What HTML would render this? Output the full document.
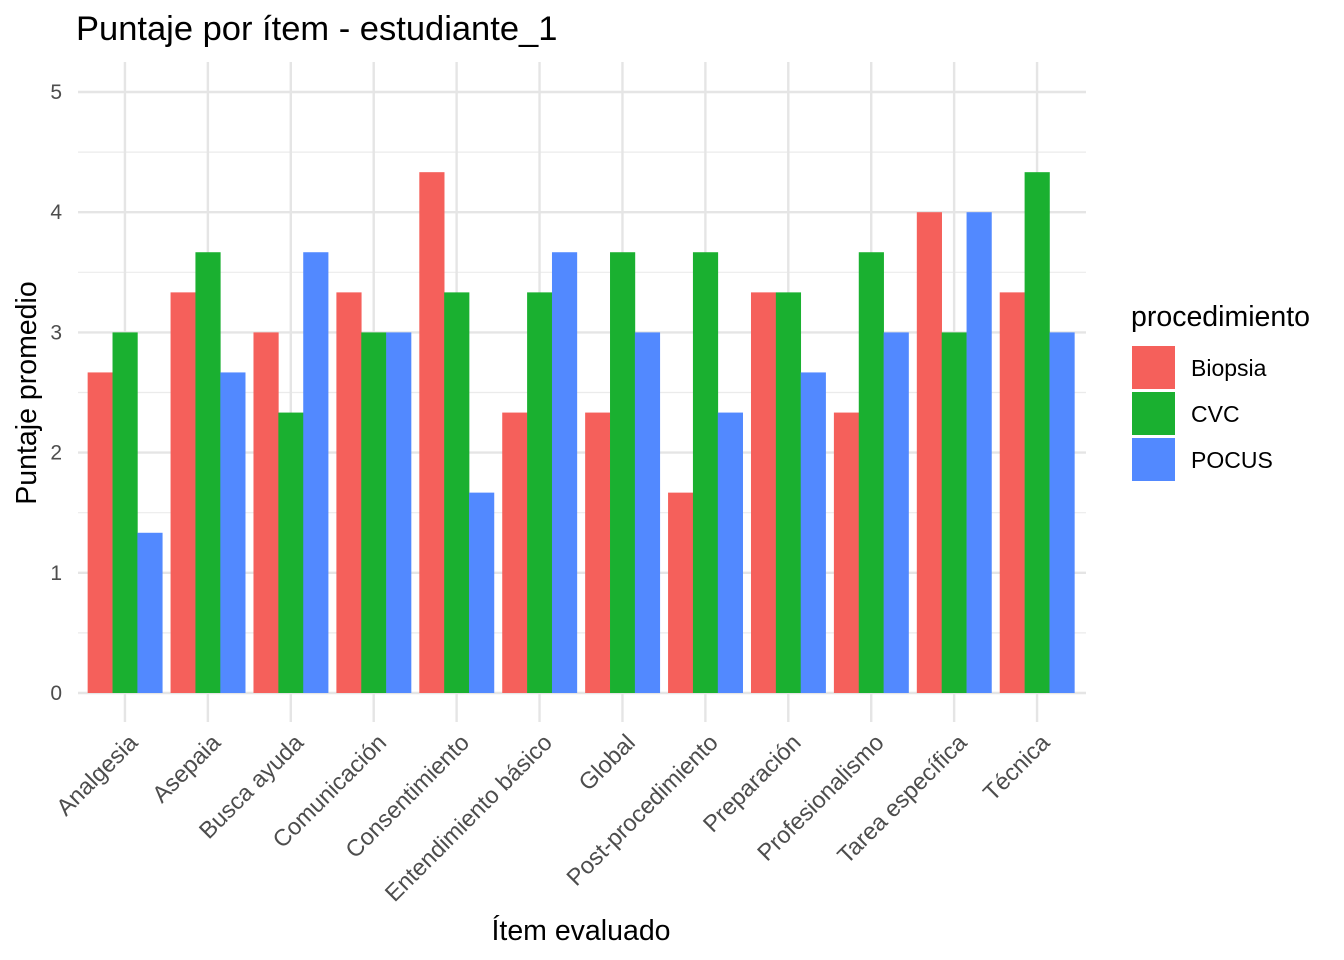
<!DOCTYPE html>
<html><head><meta charset="utf-8"><style>
body{margin:0;background:#fff;}
svg{display:block;font-family:"Liberation Sans",Arial,sans-serif;}
</style></head><body>
<svg id="chart" width="1344" height="960" viewBox="0 0 1344 960">
<text x="76" y="40" font-size="34.5" fill="#000">Puntaje por ítem - estudiante_1</text>
<g id="grid"></g><g id="bars"></g><g id="ticks"></g>
<text x="581" y="940" font-size="28.5" text-anchor="middle" fill="#000">Ítem evaluado</text>
<text transform="translate(36,393) rotate(-90)" font-size="28.5" text-anchor="middle" fill="#000">Puntaje promedio</text>
<g id="legend">
<text x="1131" y="326" font-size="28.5" fill="#000">procedimiento</text>
</g>
</svg>
<script>
const categories=["Analgesia","Asepaia","Busca ayuda","Comunicación","Consentimiento","Entendimiento básico","Global","Post-procedimiento","Preparación","Profesionalismo","Tarea específica","Técnica"];
const seriesNames=["Biopsia","CVC","POCUS"];
const biopsia=[2.667,3.333,3,3.333,4.333,2.333,2.333,1.667,3.333,2.333,4,3.333];
const cvc=[3,3.667,2.333,3,3.333,3.333,3.667,3.667,3.333,3.667,3,4.333];
const pocus=[1.333,2.667,3.667,3,1.667,3.667,3,2.333,2.667,3,4,3];
const yTicks=[0,1,2,3,4,5];
const colors=["#F5605B","#1AB030","#5289FF"];
const NS="http://www.w3.org/2000/svg";
const gx0=78,gx1=1086,x0=83.5,x1=1078.5,y0=693,yTop=92;
const step=(x1-x0)/categories.length;
const xc=i=>x0+step*(i+0.5);
const y=v=>y0-(v/5)*(y0-yTop);
function mk(tag,attrs,parent){const e=document.createElementNS(NS,tag);for(const k in attrs)e.setAttribute(k,attrs[k]);parent.appendChild(e);return e;}
const grid=document.getElementById('grid'),bars=document.getElementById('bars'),ticks=document.getElementById('ticks');
for(let v=0.5;v<5.2;v+=1){const l=mk('line',{x1:gx0,x2:gx1,y1:y(v),y2:y(v),stroke:'#EBEBEB','stroke-width':1.2},grid);

}
yTicks.forEach(v=>{const l=mk('line',{x1:gx0,x2:gx1,y1:y(v),y2:y(v),stroke:'#E5E5E5','stroke-width':2.4},grid);


const t=mk('text',{x:62,y:y(v)+7,'font-size':21,'text-anchor':'end',fill:'#4D4D4D'},ticks);t.textContent=v;

});
categories.forEach((c,i)=>{const l=mk('line',{x1:xc(i),x2:xc(i),y1:62,y2:722,stroke:'#E5E5E5','stroke-width':2.4},grid);


const t=mk('text',{transform:`translate(${xc(i)+14},${744}) rotate(-45)`,'font-size':23.5,'text-anchor':'end',fill:'#4D4D4D'},ticks);t.textContent=c;

});
const all=[biopsia,cvc,pocus];const bw=step*0.9/3;
all.forEach((s,k)=>s.forEach((v,i)=>{const r=mk('rect',{x:xc(i)-step*0.45+k*bw,y:y(v),width:bw+0.3,height:y0-y(v),fill:colors[k]},bars);

}));
const lg=document.getElementById('legend');
seriesNames.forEach((n,k)=>{const r=mk('rect',{x:1132,y:346+k*46,width:43,height:43,fill:colors[k]},lg);


const t=mk('text',{x:1191,y:376+k*46,'font-size':23,fill:'#000'},lg);t.textContent=n;

});
</script>
</body></html>
